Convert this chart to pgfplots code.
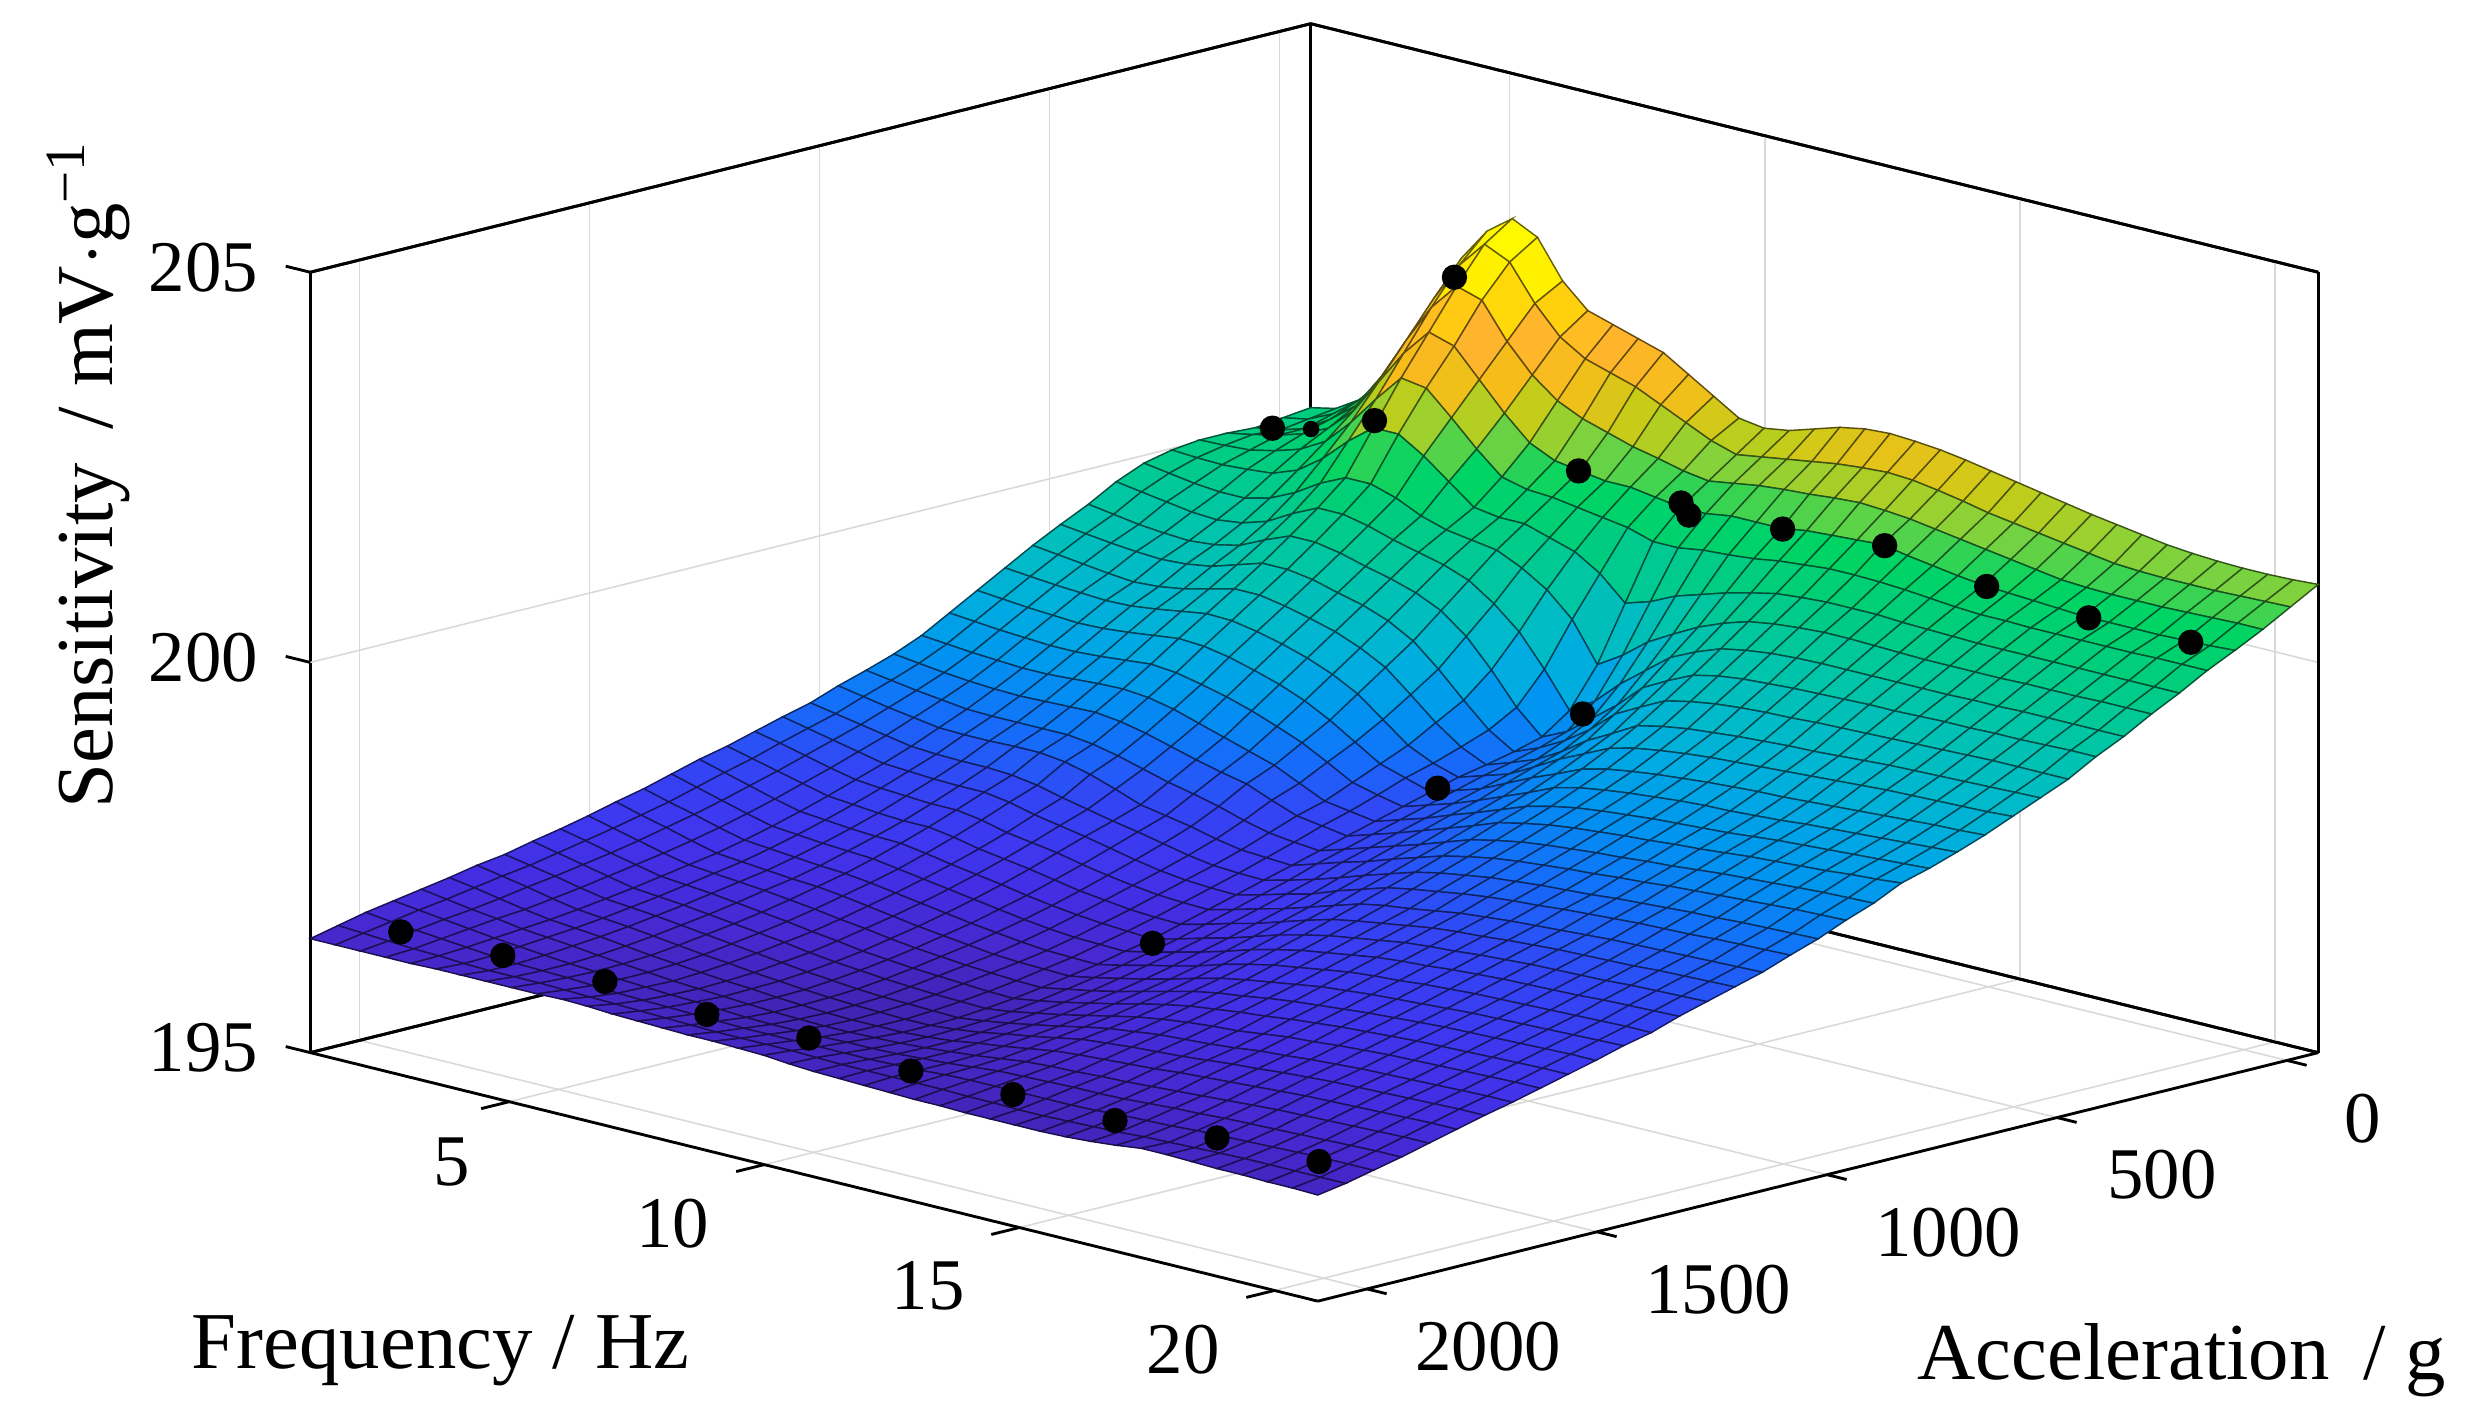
\documentclass[border=0pt]{standalone}
\usepackage{fontspec}
\setmainfont{Liberation Serif}
\usepackage{pgfplots}
\pgfplotsset{compat=1.18}
\begin{document}
\begin{tikzpicture}
\useasboundingbox (0,0) rectangle (784pt,449.5pt);
\begin{axis}[
  anchor=south west, at={(98pt,38.5pt)},
  x={(-0.14529pt,-0.03609pt)}, y={(16.114pt,-3.975pt)}, z={(0pt,24.65pt)},
  xmin=-68, xmax=2107, ymin=1.1, ymax=20.85, zmin=195, zmax=205,
  xtick={0,500,1000,1500,2000}, ytick={5,10,15,20}, ztick={195,200,205},
  xticklabels={\rule{0pt}{21.5pt}\hspace*{-24.5pt}0,\rule{0pt}{17.5pt}\hspace*{-8.3pt}500,1000,1500,2000},
  yticklabels={\rule{0pt}{19pt}5\hspace*{-19pt},10,15,20},
  grid=major, grid style={gray!30,line width=0.5pt},
  axis line style={black,line width=0.9pt},
  major tick length=0pt,
  clip=false, scaled ticks=false,
  /pgf/number format/1000 sep={},
  /pgf/number format/assume math mode=true,
  ticklabel style={font=\fontsize{23}{24}\selectfont},
  xticklabel style={xshift=26.5pt,yshift=-3.25pt},
  yticklabel style={xshift=-19pt,yshift=-6pt},
  zticklabel style={xshift=-13pt,yshift=1.5pt},
  label style={font=\fontsize{25.5}{28}\selectfont},
  xlabel={Acceleration\, / g},
  ylabel={Frequency / Hz},
  zlabel={Sensitivity\, / mV$\cdot$g\raisebox{9pt}{\fontsize{18}{18}\selectfont −1}},
  xlabel style={xshift=52pt,yshift=22.5pt},
  ylabel style={xshift=-64pt,yshift=14pt},
  zlabel style={xshift=59pt,yshift=-1pt},
  colormap={sens}{
    rgb255(0pt)=(65,35,175); rgb255(3pt)=(70,40,205); rgb255(6pt)=(68,45,225);
    rgb255(9pt)=(62,55,240); rgb255(13pt)=(50,70,245); rgb255(17pt)=(20,110,250);
    rgb255(21pt)=(0,148,240); rgb255(25pt)=(0,172,225); rgb255(29pt)=(0,187,200);
    rgb255(34pt)=(0,198,165); rgb255(39pt)=(0,205,125); rgb255(43pt)=(0,212,100);
    rgb255(47pt)=(130,210,60); rgb255(50pt)=(195,205,25); rgb255(53pt)=(245,190,25);
    rgb255(57pt)=(255,180,45); rgb255(60pt)=(255,205,15); rgb255(64pt)=(255,240,0);
    rgb255(70pt)=(255,255,0)},
  point meta min=196.2, point meta max=203.2,
]
\draw[black,line width=0.9pt] (axis cs:2107,1.1,195)--(axis cs:-68,1.1,195)--(axis cs:-68,20.85,195);
\draw[black,line width=0.9pt] (axis cs:2107,1.1,205)--(axis cs:-68,1.1,205)--(axis cs:-68,20.85,205);
\draw[black,line width=0.9pt] (axis cs:-68,1.1,195)--(axis cs:-68,1.1,205);
\addplot3[surf, shader=faceted, faceted color=mapped color!40!black, line width=0.45pt,
  mesh/ordering=y varies, mesh/rows=41, mesh/cols=37]
 table[row sep=\\, header=false, x expr={-68+60.4167*floor((\coordindex+0.5)/41)}, y expr={1.1+0.49375*mod(\coordindex,41)}, z index=0] {
200.08\\200.15\\200.35\\200.70\\201.10\\201.85\\202.48\\202.90\\203.14\\202.98\\202.50\\202.20\\202.10\\202.00\\201.90\\201.70\\201.50\\201.30\\201.25\\201.30\\201.40\\201.50\\201.56\\201.58\\201.56\\201.53\\201.48\\201.42\\201.36\\201.30\\201.24\\201.18\\201.13\\201.08\\201.03\\201.00\\200.98\\200.97\\200.97\\200.98\\201.00\\
200.04\\200.10\\200.25\\200.50\\200.85\\201.45\\202.05\\202.55\\202.90\\202.75\\202.30\\201.95\\201.75\\201.65\\201.55\\201.40\\201.25\\201.10\\201.00\\201.05\\201.10\\201.15\\201.20\\201.23\\201.25\\201.23\\201.18\\201.12\\201.05\\201.00\\200.95\\200.90\\200.85\\200.80\\200.78\\200.77\\200.77\\200.77\\200.78\\200.79\\200.80\\
200.00\\200.05\\200.15\\200.35\\200.60\\201.05\\201.60\\202.10\\202.45\\202.35\\201.90\\201.55\\201.30\\201.15\\201.05\\200.95\\200.88\\200.80\\200.75\\200.80\\200.85\\200.88\\200.90\\200.93\\200.95\\200.93\\200.90\\200.85\\200.80\\200.75\\200.70\\200.65\\200.60\\200.58\\200.57\\200.57\\200.57\\200.58\\200.59\\200.60\\200.60\\
200.02\\200.08\\200.15\\200.25\\200.40\\200.70\\201.15\\201.60\\201.95\\201.85\\201.50\\201.15\\200.85\\200.70\\200.65\\200.60\\200.60\\200.55\\200.50\\200.50\\200.55\\200.55\\200.55\\200.60\\200.62\\200.64\\200.66\\200.60\\200.55\\200.50\\200.46\\200.44\\200.42\\200.40\\200.38\\200.38\\200.38\\200.38\\200.39\\200.40\\200.42\\
200.02\\200.03\\200.05\\200.12\\200.22\\200.40\\200.72\\201.10\\201.45\\201.40\\201.10\\200.78\\200.50\\200.42\\200.40\\200.35\\200.30\\200.25\\200.15\\200.15\\200.20\\200.22\\200.25\\200.30\\200.33\\200.36\\200.36\\200.35\\200.33\\200.30\\200.27\\200.25\\200.25\\200.24\\200.24\\200.24\\200.24\\200.24\\200.25\\200.25\\200.25\\
199.98\\199.96\\199.95\\199.97\\200.00\\200.12\\200.35\\200.65\\200.90\\200.90\\200.70\\200.45\\200.20\\200.15\\200.15\\200.05\\199.95\\199.75\\199.45\\199.55\\199.70\\199.80\\199.90\\199.98\\200.05\\200.08\\200.10\\200.10\\200.10\\200.08\\200.07\\200.06\\200.05\\200.05\\200.05\\200.05\\200.05\\200.05\\200.05\\200.05\\200.05\\
199.90\\199.85\\199.80\\199.77\\199.77\\199.85\\200.00\\200.20\\200.35\\200.35\\200.25\\200.10\\200.00\\199.95\\199.90\\199.75\\199.55\\199.25\\198.75\\198.95\\199.20\\199.38\\199.55\\199.68\\199.78\\199.83\\199.86\\199.88\\199.88\\199.87\\199.86\\199.85\\199.85\\199.85\\199.85\\199.86\\199.86\\199.86\\199.87\\199.87\\199.87\\
199.75\\199.70\\199.65\\199.60\\199.58\\199.62\\199.72\\199.90\\200.05\\200.05\\199.98\\199.88\\199.80\\199.72\\199.60\\199.38\\199.10\\198.70\\198.25\\198.45\\198.75\\199.00\\199.25\\199.40\\199.52\\199.58\\199.62\\199.64\\199.65\\199.65\\199.65\\199.65\\199.65\\199.65\\199.66\\199.66\\199.67\\199.67\\199.67\\199.67\\199.67\\
199.55\\199.50\\199.45\\199.42\\199.40\\199.43\\199.50\\199.65\\199.78\\199.78\\199.72\\199.63\\199.55\\199.45\\199.30\\199.05\\198.70\\198.30\\198.00\\198.15\\198.40\\198.65\\198.95\\199.12\\199.27\\199.34\\199.38\\199.40\\199.42\\199.43\\199.44\\199.45\\199.45\\199.46\\199.47\\199.47\\199.48\\199.48\\199.49\\199.50\\199.50\\
199.38\\199.34\\199.30\\199.27\\199.25\\199.27\\199.32\\199.42\\199.52\\199.52\\199.47\\199.38\\199.30\\199.18\\199.00\\198.72\\198.40\\198.10\\197.90\\198.03\\198.20\\198.42\\198.70\\198.87\\199.03\\199.10\\199.15\\199.18\\199.20\\199.21\\199.23\\199.24\\199.25\\199.26\\199.27\\199.28\\199.29\\199.30\\199.30\\199.30\\199.30\\
199.20\\199.16\\199.12\\199.08\\199.05\\199.07\\199.12\\199.20\\199.28\\199.28\\199.22\\199.14\\199.05\\198.92\\198.75\\198.48\\198.20\\197.97\\197.82\\197.93\\198.05\\198.23\\198.45\\198.62\\198.80\\198.87\\198.92\\198.95\\198.98\\199.00\\199.02\\199.03\\199.05\\199.07\\199.09\\199.10\\199.11\\199.12\\199.13\\199.14\\199.15\\
199.00\\198.97\\198.94\\198.92\\198.90\\198.91\\198.95\\199.00\\199.05\\199.04\\198.98\\198.90\\198.80\\198.67\\198.50\\198.25\\198.00\\197.85\\197.75\\197.85\\197.95\\198.12\\198.30\\198.45\\198.60\\198.68\\198.73\\198.77\\198.80\\198.82\\198.84\\198.86\\198.88\\198.90\\198.92\\198.94\\198.95\\198.96\\198.97\\198.98\\199.00\\
198.80\\198.77\\198.74\\198.72\\198.70\\198.71\\198.74\\198.78\\198.82\\198.80\\198.74\\198.65\\198.55\\198.42\\198.25\\198.05\\197.85\\197.75\\197.65\\197.75\\197.85\\198.00\\198.15\\198.28\\198.42\\198.50\\198.55\\198.59\\198.62\\198.65\\198.67\\198.69\\198.70\\198.72\\198.74\\198.76\\198.78\\198.80\\198.82\\198.83\\198.85\\
198.60\\198.57\\198.54\\198.52\\198.50\\198.50\\198.52\\198.55\\198.58\\198.55\\198.48\\198.40\\198.30\\198.18\\198.05\\197.88\\197.70\\197.62\\197.55\\197.65\\197.75\\197.87\\198.00\\198.13\\198.27\\198.35\\198.40\\198.44\\198.47\\198.50\\198.52\\198.53\\198.55\\198.57\\198.60\\198.62\\198.64\\198.66\\198.68\\198.70\\198.72\\
198.40\\198.37\\198.34\\198.32\\198.30\\198.30\\198.32\\198.34\\198.35\\198.32\\198.25\\198.15\\198.05\\197.95\\197.85\\197.70\\197.55\\197.50\\197.45\\197.55\\197.65\\197.77\\197.88\\198.00\\198.12\\198.20\\198.26\\198.30\\198.33\\198.36\\198.38\\198.40\\198.42\\198.45\\198.48\\198.50\\198.52\\198.54\\198.56\\198.58\\198.60\\
198.25\\198.21\\198.17\\198.14\\198.12\\198.11\\198.12\\198.13\\198.14\\198.10\\198.03\\197.94\\197.85\\197.77\\197.70\\197.57\\197.45\\197.40\\197.35\\197.45\\197.55\\197.66\\197.77\\197.88\\198.00\\198.07\\198.13\\198.17\\198.20\\198.23\\198.25\\198.28\\198.30\\198.33\\198.36\\198.38\\198.40\\198.42\\198.45\\198.47\\198.50\\
198.13\\198.08\\198.03\\197.99\\197.95\\197.94\\197.94\\197.94\\197.94\\197.90\\197.83\\197.74\\197.65\\197.58\\197.50\\197.40\\197.32\\197.28\\197.25\\197.35\\197.45\\197.55\\197.65\\197.76\\197.87\\197.94\\198.00\\198.04\\198.07\\198.10\\198.12\\198.15\\198.17\\198.20\\198.23\\198.25\\198.27\\198.29\\198.31\\198.32\\198.33\\
198.02\\197.96\\197.90\\197.85\\197.80\\197.79\\197.79\\197.80\\197.80\\197.76\\197.68\\197.57\\197.45\\197.39\\197.33\\197.25\\197.19\\197.17\\197.15\\197.25\\197.35\\197.44\\197.55\\197.65\\197.75\\197.82\\197.88\\197.92\\197.95\\197.98\\198.00\\198.03\\198.05\\198.08\\198.10\\198.12\\198.14\\198.16\\198.18\\198.19\\198.20\\
197.89\\197.83\\197.77\\197.71\\197.65\\197.63\\197.62\\197.62\\197.60\\197.55\\197.47\\197.40\\197.33\\197.27\\197.20\\197.13\\197.08\\197.06\\197.05\\197.13\\197.22\\197.32\\197.43\\197.53\\197.63\\197.70\\197.75\\197.80\\197.83\\197.86\\197.88\\197.90\\197.93\\197.95\\197.97\\197.99\\198.00\\198.02\\198.03\\198.04\\198.05\\
197.80\\197.73\\197.66\\197.59\\197.52\\197.50\\197.48\\197.47\\197.47\\197.42\\197.34\\197.28\\197.22\\197.15\\197.08\\197.02\\196.98\\196.96\\196.95\\197.03\\197.12\\197.20\\197.32\\197.42\\197.52\\197.58\\197.63\\197.68\\197.72\\197.75\\197.77\\197.80\\197.82\\197.84\\197.86\\197.87\\197.88\\197.90\\197.91\\197.92\\197.93\\
197.70\\197.63\\197.55\\197.47\\197.40\\197.37\\197.35\\197.33\\197.33\\197.28\\197.20\\197.15\\197.10\\197.03\\196.97\\196.92\\196.88\\196.86\\196.85\\196.93\\197.02\\197.10\\197.20\\197.30\\197.40\\197.46\\197.50\\197.55\\197.60\\197.63\\197.66\\197.68\\197.70\\197.72\\197.74\\197.75\\197.76\\197.77\\197.78\\197.79\\197.80\\
197.60\\197.52\\197.44\\197.36\\197.28\\197.25\\197.22\\197.20\\197.20\\197.15\\197.08\\197.03\\196.98\\196.92\\196.86\\196.82\\196.78\\196.76\\196.75\\196.83\\196.92\\197.00\\197.10\\197.20\\197.29\\197.35\\197.40\\197.45\\197.50\\197.53\\197.55\\197.58\\197.60\\197.62\\197.63\\197.64\\197.65\\197.67\\197.68\\197.69\\197.70\\
197.52\\197.43\\197.34\\197.25\\197.17\\197.14\\197.11\\197.09\\197.08\\197.03\\196.97\\196.92\\196.87\\196.81\\196.76\\196.72\\196.69\\196.67\\196.65\\196.73\\196.82\\196.90\\197.00\\197.10\\197.18\\197.25\\197.30\\197.35\\197.40\\197.43\\197.45\\197.48\\197.50\\197.52\\197.53\\197.54\\197.55\\197.57\\197.58\\197.59\\197.60\\
197.42\\197.33\\197.24\\197.15\\197.07\\197.04\\197.01\\196.99\\196.97\\196.92\\196.87\\196.82\\196.77\\196.72\\196.67\\196.63\\196.60\\196.59\\196.58\\196.65\\196.73\\196.81\\196.90\\197.00\\197.08\\197.15\\197.20\\197.25\\197.30\\197.33\\197.35\\197.38\\197.40\\197.42\\197.43\\197.44\\197.45\\197.47\\197.48\\197.49\\197.50\\
197.32\\197.23\\197.15\\197.06\\196.98\\196.95\\196.92\\196.89\\196.87\\196.83\\196.78\\196.73\\196.68\\196.63\\196.59\\196.55\\196.52\\196.51\\196.50\\196.57\\196.65\\196.72\\196.80\\196.90\\196.98\\197.05\\197.10\\197.15\\197.20\\197.23\\197.25\\197.28\\197.30\\197.32\\197.33\\197.34\\197.35\\197.36\\197.37\\197.38\\197.38\\
197.24\\197.15\\197.07\\196.98\\196.90\\196.87\\196.84\\196.81\\196.79\\196.75\\196.70\\196.65\\196.60\\196.56\\196.52\\196.48\\196.46\\196.45\\196.44\\196.50\\196.57\\196.64\\196.72\\196.81\\196.89\\196.95\\197.00\\197.05\\197.10\\197.13\\197.16\\197.18\\197.20\\197.22\\197.24\\197.25\\197.26\\197.27\\197.28\\197.29\\197.30\\
197.15\\197.07\\196.99\\196.91\\196.84\\196.81\\196.78\\196.75\\196.71\\196.67\\196.62\\196.58\\196.53\\196.49\\196.46\\196.43\\196.41\\196.39\\196.38\\196.44\\196.50\\196.57\\196.65\\196.73\\196.81\\196.87\\196.91\\196.96\\197.00\\197.03\\197.06\\197.09\\197.11\\197.13\\197.15\\197.16\\197.17\\197.18\\197.19\\197.20\\197.20\\
197.07\\197.00\\196.92\\196.85\\196.78\\196.75\\196.72\\196.68\\196.64\\196.60\\196.55\\196.51\\196.46\\196.43\\196.40\\196.38\\196.36\\196.34\\196.33\\196.38\\196.44\\196.51\\196.58\\196.66\\196.73\\196.79\\196.83\\196.87\\196.90\\196.94\\196.97\\197.00\\197.02\\197.04\\197.06\\197.07\\197.08\\197.09\\197.10\\197.11\\197.11\\
197.00\\196.93\\196.86\\196.79\\196.72\\196.69\\196.66\\196.62\\196.58\\196.54\\196.50\\196.45\\196.41\\196.38\\196.35\\196.33\\196.31\\196.30\\196.29\\196.33\\196.39\\196.45\\196.52\\196.59\\196.66\\196.71\\196.75\\196.78\\196.80\\196.84\\196.88\\196.90\\196.93\\196.95\\196.97\\196.98\\196.99\\197.00\\197.01\\197.02\\197.02\\
196.92\\196.86\\196.80\\196.73\\196.67\\196.64\\196.61\\196.57\\196.53\\196.49\\196.45\\196.41\\196.37\\196.34\\196.31\\196.29\\196.28\\196.27\\196.26\\196.30\\196.35\\196.41\\196.47\\196.54\\196.60\\196.64\\196.68\\196.70\\196.72\\196.75\\196.79\\196.81\\196.84\\196.86\\196.88\\196.89\\196.90\\196.91\\196.92\\196.93\\196.93\\
196.87\\196.81\\196.75\\196.68\\196.62\\196.59\\196.56\\196.52\\196.48\\196.44\\196.41\\196.37\\196.34\\196.31\\196.29\\196.27\\196.26\\196.25\\196.25\\196.28\\196.32\\196.38\\196.43\\196.49\\196.55\\196.58\\196.61\\196.63\\196.65\\196.68\\196.71\\196.73\\196.76\\196.78\\196.80\\196.81\\196.82\\196.83\\196.84\\196.85\\196.85\\
196.80\\196.75\\196.69\\196.63\\196.58\\196.55\\196.52\\196.48\\196.44\\196.41\\196.38\\196.35\\196.33\\196.30\\196.28\\196.26\\196.25\\196.25\\196.25\\196.27\\196.30\\196.35\\196.39\\196.44\\196.49\\196.52\\196.54\\196.56\\196.58\\196.61\\196.63\\196.65\\196.67\\196.69\\196.71\\196.72\\196.73\\196.74\\196.75\\196.76\\196.76\\
196.74\\196.69\\196.64\\196.60\\196.55\\196.52\\196.49\\196.45\\196.42\\196.39\\196.36\\196.34\\196.32\\196.30\\196.28\\196.27\\196.26\\196.26\\196.27\\196.28\\196.30\\196.33\\196.36\\196.40\\196.44\\196.46\\196.47\\196.49\\196.50\\196.52\\196.54\\196.56\\196.58\\196.60\\196.62\\196.63\\196.64\\196.65\\196.66\\196.67\\196.67\\
196.68\\196.64\\196.60\\196.56\\196.52\\196.49\\196.46\\196.43\\196.41\\196.39\\196.37\\196.35\\196.34\\196.32\\196.30\\196.29\\196.29\\196.29\\196.30\\196.30\\196.31\\196.33\\196.35\\196.38\\196.41\\196.42\\196.43\\196.44\\196.44\\196.45\\196.47\\196.49\\196.50\\196.52\\196.53\\196.54\\196.55\\196.56\\196.57\\196.58\\196.58\\
196.62\\196.58\\196.55\\196.52\\196.49\\196.46\\196.44\\196.43\\196.42\\196.40\\196.38\\196.37\\196.36\\196.35\\196.34\\196.33\\196.33\\196.33\\196.33\\196.33\\196.33\\196.34\\196.35\\196.37\\196.38\\196.38\\196.38\\196.38\\196.38\\196.39\\196.41\\196.42\\196.43\\196.45\\196.46\\196.47\\196.48\\196.49\\196.50\\196.50\\196.50\\
196.54\\196.52\\196.50\\196.48\\196.47\\196.45\\196.44\\196.44\\196.44\\196.43\\196.42\\196.41\\196.40\\196.39\\196.38\\196.37\\196.37\\196.37\\196.37\\196.36\\196.35\\196.35\\196.35\\196.35\\196.35\\196.34\\196.34\\196.33\\196.33\\196.34\\196.35\\196.36\\196.38\\196.39\\196.40\\196.41\\196.42\\196.42\\196.42\\196.42\\196.42\\
196.46\\196.46\\196.46\\196.46\\196.46\\196.47\\196.47\\196.47\\196.47\\196.47\\196.48\\196.47\\196.45\\196.44\\196.43\\196.42\\196.42\\196.41\\196.40\\196.37\\196.35\\196.34\\196.33\\196.32\\196.31\\196.31\\196.30\\196.30\\196.30\\196.30\\196.31\\196.33\\196.36\\196.40\\196.40\\196.39\\196.38\\196.38\\196.37\\196.37\\196.36\\
};
\addplot3[only marks, mark=*, mark size=3.8pt, black, mark options={fill=black,draw=black}] coordinates {
(2010,2,196.55)(2010,4,196.57)(2010,6,196.56)(2010,8,196.46)(2010,10,196.48)(2010,12,196.38)(2010,14,196.40)(2010,16,196.39)(2010,18,196.49)(2010,20,196.51)
(115,20,200.39)(115,18,200.38)(115,16,200.46)(115,14,200.66)(115,12,200.55)(114,10,200.56)(97,10,200.38)(115,8,200.65)(115,4,200.65)(115,2,200.23)
(328,10,198.17)(643,10,197.68)(1263,10,196.60)(163,6,202.88)
};
\addplot3[only marks, mark=*, mark size=2.4pt, black, mark options={fill=black,draw=black}] coordinates {(142,3,200.42)};
% tick marks
\draw[black,line width=0.9pt] (axis cs:0,20.85,195)--(axis cs:0,21.235,195) (axis cs:500,20.85,195)--(axis cs:500,21.235,195) (axis cs:1000,20.85,195)--(axis cs:1000,21.235,195) (axis cs:1500,20.85,195)--(axis cs:1500,21.235,195) (axis cs:2000,20.85,195)--(axis cs:2000,21.235,195);
\draw[black,line width=0.9pt] (axis cs:2107,5,195)--(axis cs:2168,5,195) (axis cs:2107,10,195)--(axis cs:2168,10,195) (axis cs:2107,15,195)--(axis cs:2168,15,195) (axis cs:2107,20,195)--(axis cs:2168,20,195);
\draw[black,line width=0.9pt] (axis cs:2107,1.1,195)--(axis cs:2107,0.62,195) (axis cs:2107,1.1,200)--(axis cs:2107,0.62,200) (axis cs:2107,1.1,205)--(axis cs:2107,0.62,205);
\end{axis}
\end{tikzpicture}
\end{document}
